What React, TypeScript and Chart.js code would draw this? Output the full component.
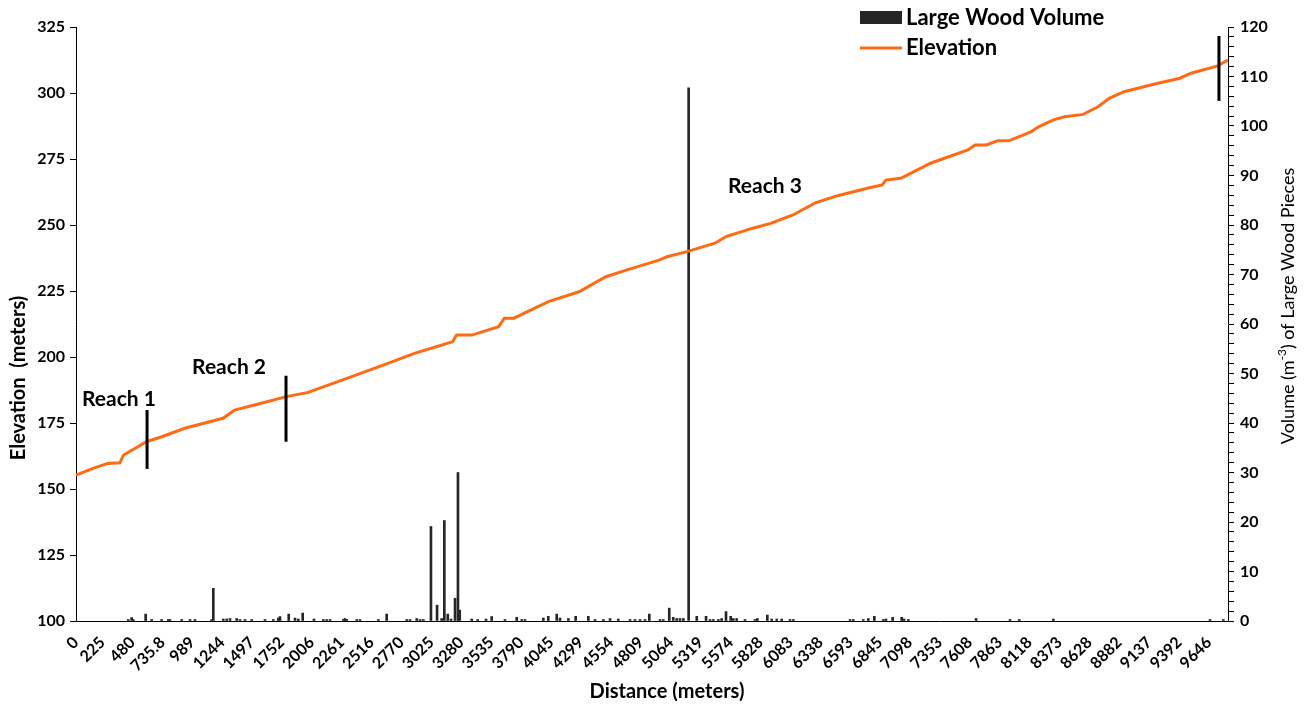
import React, { useEffect, useRef } from 'react';
import { Chart, registerables } from 'chart.js';

Chart.register(...registerables);

// ---------- data ----------
const xTickLabels = ['0', '225', '480', '735.8', '989', '1244', '1497', '1752', '2006', '2261', '2516', '2770', '3025', '3280', '3535', '3790', '4045', '4299', '4554', '4809', '5064', '5319', '5574', '5828', '6083', '6338', '6593', '6845', '7098', '7353', '7608', '7863', '8118', '8373', '8628', '8882', '9137', '9392', '9646'];
const xTickValues = xTickLabels.map(Number);
const xMax = 9808;

const elevDistance = [0, 145, 270, 373, 405, 600, 730, 926, 1252, 1350, 1578, 1790, 1969, 2230, 2621, 2881, 3207, 3240, 3370, 3598, 3647, 3728, 4022, 4283, 4511, 4706, 4964, 5032, 5202, 5440, 5534, 5755, 5914, 6104, 6294, 6484, 6737, 6864, 6895, 7022, 7276, 7593, 7656, 7751, 7846, 7941, 8131, 8195, 8322, 8417, 8575, 8701, 8797, 8923, 9176, 9398, 9493, 9715, 9808];
const elevValue = [155.3, 157.8, 159.7, 159.9, 162.9, 167.9, 169.8, 173, 176.8, 179.9, 182.5, 185, 186.5, 190.7, 197, 201.4, 205.8, 208.3, 208.3, 211.5, 214.7, 214.7, 221, 224.7, 230.4, 233.2, 236.7, 238, 239.9, 243.1, 245.6, 248.7, 250.6, 253.8, 258.4, 261.1, 263.9, 265.2, 267, 267.7, 273.4, 278.4, 280.3, 280.3, 281.9, 281.9, 285.3, 287.2, 289.8, 291, 291.9, 294.8, 298, 300.5, 303.3, 305.6, 307.5, 310.2, 312.5];

const woodDistance = [445, 474, 488, 593, 644, 729, 786, 800, 900, 971, 1013, 1155, 1169, 1254, 1283, 1311, 1368, 1396, 1439, 1496, 1609, 1680, 1722, 1737, 1811, 1865, 1893, 1930, 2026, 2106, 2134, 2163, 2276, 2290, 2305, 2390, 2418, 2574, 2645, 2816, 2844, 2901, 2929, 2957, 3022, 3074, 3113, 3136, 3165, 3193, 3227, 3252, 3267, 3369, 3420, 3491, 3539, 3652, 3752, 3795, 3823, 3979, 4021, 4093, 4121, 4192, 4254, 4362, 4419, 4490, 4547, 4617, 4717, 4759, 4802, 4844, 4881, 4972, 5000, 5051, 5085, 5114, 5142, 5171, 5216, 5285, 5364, 5398, 5426, 5469, 5497, 5534, 5574, 5596, 5625, 5696, 5781, 5801, 5886, 5923, 5966, 6008, 6079, 6107, 6590, 6618, 6703, 6746, 6797, 6873, 6896, 6953, 7030, 7050, 7086, 7663, 7952, 8031, 8321, 9655, 9768];
const woodVolume = [0.3, 0.7, 0.3, 1.4, 0.3, 0.3, 0.3, 0.3, 0.3, 0.3, 0.3, 0.3, 6.6, 0.4, 0.4, 0.5, 0.5, 0.3, 0.3, 0.3, 0.3, 0.3, 0.6, 0.9, 1.4, 0.6, 0.4, 1.6, 0.4, 0.3, 0.3, 0.3, 0.3, 0.5, 0.3, 0.3, 0.3, 0.3, 1.4, 0.3, 0.3, 0.5, 0.3, 0.3, 19.1, 3.2, 0.5, 20.3, 1.4, 0.4, 4.6, 30.0, 2.2, 0.4, 0.3, 0.4, 0.9, 0.3, 0.75, 0.3, 0.3, 0.6, 0.95, 1.4, 0.6, 0.5, 0.95, 0.95, 0.3, 0.3, 0.5, 0.4, 0.3, 0.3, 0.3, 0.3, 1.4, 0.3, 0.3, 2.6, 0.75, 0.5, 0.5, 0.5, 107.7, 0.95, 0.95, 0.3, 0.3, 0.3, 0.5, 1.9, 0.95, 0.5, 0.5, 0.3, 0.3, 0.5, 1.2, 0.4, 0.4, 0.4, 0.3, 0.3, 0.3, 0.3, 0.3, 0.5, 0.95, 0.3, 0.4, 0.75, 0.75, 0.4, 0.3, 0.5, 0.3, 0.3, 0.4, 0.3, 0.3];

const reachMarkerDistance = [605, 1788, 9731];
const reachMarkerLow = [157.6, 167.9, 297];
const reachMarkerHigh = [179.9, 192.9, 321.6];

const reachLabels = ['Reach 1', 'Reach 2', 'Reach 3'];
const reachLabelDistance = [366, 1303, 5866];
const reachLabelElevation = [184.1, 196.2, 264.8];

const legendLabels = ['Large Wood Volume', 'Elevation'];
const xTitle = 'Distance (meters)';
const yTitle = 'Elevation  (meters)';
const y1TitleParts = ['Volume (m', '-3', ') of Large Wood Pieces'];

const ORANGE = '#FF6A13';
const BAR = '#262626';
const FONT = 'Lato, "Open Sans", sans-serif';

export default function App() {
  const ref = useRef<HTMLCanvasElement>(null);

  useEffect(() => {
    const canvas = ref.current;
    if (!canvas) return;

    const elevData = elevDistance.map((d, i) => ({ x: d, y: elevValue[i] }));
    const woodData = woodDistance.map((d, i) => ({ x: d, y: woodVolume[i] }));
    const markerSets = reachMarkerDistance.map((d, i) => ({
      type: 'line' as const,
      label: 'marker' + i,
      data: [{ x: d, y: reachMarkerLow[i] }, { x: d, y: reachMarkerHigh[i] }],
      borderColor: '#000',
      borderWidth: 3,
      pointRadius: 0,
      yAxisID: 'y',
      order: 0,
      borderCapStyle: 'butt' as const,
    }));

    const overlay = {
      id: 'overlay',
      afterDraw(chart: any) {
        const ctx = chart.ctx as CanvasRenderingContext2D;
        const xs = chart.scales.x;
        const ys = chart.scales.y;
        ctx.save();
        ctx.fillStyle = '#000';
        // reach labels
        ctx.font = `bold 21px ${FONT}`;
        ctx.textAlign = 'center';
        ctx.textBaseline = 'middle';
        reachLabels.forEach((t, i) => {
          ctx.fillText(t, xs.getPixelForValue(reachLabelDistance[i]), ys.getPixelForValue(reachLabelElevation[i]));
        });
        // legend
        ctx.fillStyle = BAR;
        ctx.fillRect(860, 11, 42, 13);
        ctx.strokeStyle = ORANGE;
        ctx.lineWidth = 3;
        ctx.beginPath();
        ctx.moveTo(860, 48);
        ctx.lineTo(902, 48);
        ctx.stroke();
        ctx.fillStyle = '#000';
        ctx.font = `bold 22px ${FONT}`;
        ctx.textAlign = 'left';
        ctx.fillText(legendLabels[0], 906, 18);
        ctx.fillText(legendLabels[1], 906, 48);
        // x title
        ctx.font = `bold 20px ${FONT}`;
        ctx.textAlign = 'center';
        ctx.fillText(xTitle, 667, 692);
        // y title
        ctx.save();
        ctx.translate(19, 378);
        ctx.rotate(-Math.PI / 2);
        ctx.font = `bold 20px ${FONT}`;
        ctx.fillText(yTitle, 0, 0);
        ctx.restore();
        // y1 title with superscript
        ctx.save();
        ctx.translate(1288, 306);
        ctx.rotate(-Math.PI / 2);
        const f1 = `18px ${FONT}`;
        const f2 = `12px ${FONT}`;
        ctx.font = f1;
        const w0 = ctx.measureText(y1TitleParts[0]).width;
        const w2 = ctx.measureText(y1TitleParts[2]).width;
        ctx.font = f2;
        const w1 = ctx.measureText(y1TitleParts[1]).width;
        let x = -(w0 + w1 + w2) / 2;
        ctx.textAlign = 'left';
        ctx.font = f1;
        ctx.fillText(y1TitleParts[0], x, 0);
        x += w0;
        ctx.font = f2;
        ctx.fillText(y1TitleParts[1], x, -6);
        x += w1;
        ctx.font = f1;
        ctx.fillText(y1TitleParts[2], x, 0);
        ctx.restore();
        ctx.restore();
      },
    };

    const tickFont = (size: number) => ({ family: FONT, weight: 'bold' as const, size });

    const chart = new Chart(canvas, {
      type: 'bar',
      data: {
        datasets: [
          {
            type: 'bar',
            label: legendLabels[0],
            data: woodData as any,
            backgroundColor: BAR,
            barThickness: 2,
            yAxisID: 'y1',
            order: 3,
          },
          {
            type: 'line',
            label: legendLabels[1],
            data: elevData as any,
            borderColor: ORANGE,
            borderWidth: 3,
            pointRadius: 0,
            yAxisID: 'y',
            order: 2,
          },
          ...(markerSets as any[]),
        ],
      },
      options: {
        animation: false,
        responsive: false,
        layout: { padding: { top: 27, left: 0, right: 0, bottom: 0 } },
        plugins: { legend: { display: false }, tooltip: { enabled: false } },
        scales: {
          x: {
            type: 'linear',
            min: 0,
            max: xMax,
            offset: false,
            afterBuildTicks: (s: any) => {
              s.ticks = xTickValues.map((v) => ({ value: v }));
            },
            afterFit: (s: any) => {
              s.height = 86;
            },
            grid: { drawOnChartArea: false, drawTicks: false },
            border: { color: '#000', width: 1 },
            ticks: {
              autoSkip: false,
              minRotation: 45,
              maxRotation: 45,
              padding: 12,
              color: '#000',
              font: tickFont(16),
              callback: (v: any) => {
                const i = xTickValues.indexOf(Number(v));
                return i >= 0 ? xTickLabels[i] : '';
              },
            },
          },
          y: {
            type: 'linear',
            position: 'left',
            min: 100,
            max: 325,
            afterFit: (s: any) => {
              s.width = 76;
            },
            grid: { drawOnChartArea: false, tickLength: 6, color: '#000' },
            border: { color: '#000', width: 1 },
            ticks: { stepSize: 25, padding: 5, color: '#000', font: tickFont(16) },
          },
          y1: {
            type: 'linear',
            position: 'right',
            min: 0,
            max: 120,
            afterFit: (s: any) => {
              s.width = 78;
            },
            grid: { drawOnChartArea: false, tickLength: 6, color: '#000' },
            border: { color: '#000', width: 1 },
            ticks: {
              stepSize: 2,
              autoSkip: false,
              padding: 6,
              color: '#000',
              font: tickFont(16),
              callback: (v: any) => (Number(v) % 10 === 0 ? String(v) : ''),
            },
          },
        },
      } as any,
      plugins: [overlay],
    });

    return () => chart.destroy();
  }, []);

  return (
    <div style={{ position: 'absolute', left: 0, top: 0, width: 1306, height: 707, background: '#fff' }}>
      <canvas ref={ref} width={1306} height={707} style={{ display: 'block' }} />
    </div>
  );
}
